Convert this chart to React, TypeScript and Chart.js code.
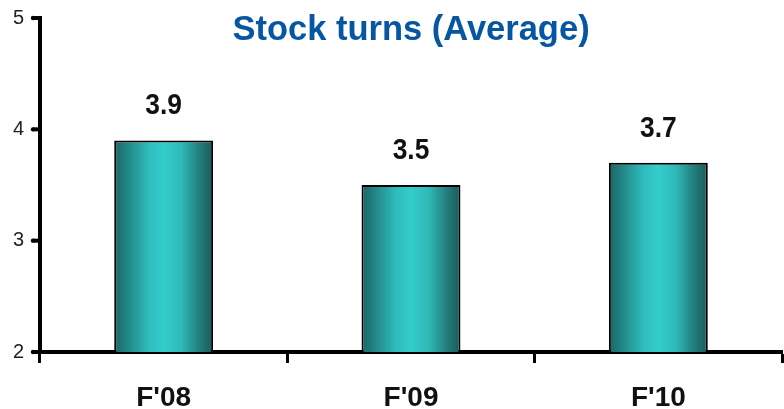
import React, { useEffect, useRef } from "react";
import { Chart, registerables } from "chart.js";

Chart.register(...registerables);

const categories = ["F'08", "F'09", "F'10"];
const stockTurns = [3.9, 3.5, 3.7];
const yTicks = [2, 3, 4, 5];
const titleText = "Stock turns (Average)";

const BAR_PCT = 0.4;
const FONT = "'Liberation Sans', Arial, Helvetica, sans-serif";

function barGradient(ctx: any) {
  const chart = ctx.chart;
  const xScale = chart.scales?.x;
  if (!xScale || ctx.dataIndex === undefined) return "#33cccc";
  const cx = xScale.getPixelForValue(ctx.dataIndex);
  const catW = xScale.width / categories.length;
  const w = catW * BAR_PCT;
  if (!Number.isFinite(cx) || !Number.isFinite(w) || w <= 0) return "#33cccc";
  const g = chart.ctx.createLinearGradient(cx - w / 2, 0, cx + w / 2, 0);
  g.addColorStop(0, "#1c6464");
  g.addColorStop(0.15, "#238a8a");
  g.addColorStop(0.35, "#30bcbc");
  g.addColorStop(0.5, "#34cccc");
  g.addColorStop(0.68, "#2fb9b8");
  g.addColorStop(0.85, "#24807f");
  g.addColorStop(1, "#1a5a5a");
  return g;
}

// Bold numbers above each bar, slightly condensed
const valueLabels = {
  id: "valueLabels",
  afterDatasetsDraw(chart: any) {
    const c = chart.ctx;
    const meta = chart.getDatasetMeta(0);
    meta.data.forEach((bar: any, i: number) => {
      c.save();
      c.translate(bar.x, bar.y - 26);
      c.scale(0.88, 1);
      c.font = `bold 30px ${FONT}`;
      c.fillStyle = "#111111";
      c.textAlign = "center";
      c.textBaseline = "alphabetic";
      c.fillText(stockTurns[i].toFixed(1), 0, 0);
      c.restore();
    });
  },
};

// Short rounded tick stubs on the left of the value axis
const yTickStubs = {
  id: "yTickStubs",
  afterDraw(chart: any) {
    const c = chart.ctx;
    const y = chart.scales.y;
    const x0 = chart.chartArea.left;
    c.save();
    c.fillStyle = "#000000";
    yTicks.forEach((v) => {
      const py = y.getPixelForValue(v);
      c.fillRect(x0 - 7, py - 2, 7, 4);
      c.beginPath();
      c.arc(x0 - 7, py, 2.2, 0, Math.PI * 2);
      c.fill();
    });
    c.restore();
  },
};

const chartTitle = {
  id: "chartTitle",
  afterDraw(chart: any) {
    const c = chart.ctx;
    const area = chart.chartArea;
    c.save();
    c.font = `bold 34.5px ${FONT}`;
    c.fillStyle = "#0756a2";
    c.textAlign = "center";
    c.textBaseline = "alphabetic";
    c.fillText(titleText, (area.left + area.right) / 2, 40);
    c.restore();
  },
};

export default function App() {
  const ref = useRef<HTMLCanvasElement>(null);

  useEffect(() => {
    if (!ref.current) return;
    const chart = new Chart(ref.current, {
      type: "bar",
      data: {
        labels: categories,
        datasets: [
          {
            data: stockTurns,
            backgroundColor: barGradient as any,
            borderColor: "#000000",
            borderWidth: 2,
            borderSkipped: false,
            barPercentage: BAR_PCT,
            categoryPercentage: 1,
          },
        ],
      },
      options: {
        responsive: false,
        animation: false,
        layout: { padding: { top: 18, right: 2, left: 0, bottom: 0 } },
        plugins: {
          legend: { display: false },
          title: { display: false },
          tooltip: { enabled: false },
        },
        scales: {
          x: {
            offset: true,
            grid: {
              offset: true,
              drawOnChartArea: false,
              drawTicks: true,
              tickLength: 11,
              tickWidth: 3,
              tickColor: "#000000",
            },
            border: { display: true, color: "#000000", width: 4 },
            ticks: {
              color: "#111111",
              padding: 18,
              font: { family: FONT, size: 28, weight: "bold" },
            },
            afterFit(scale: any) {
              scale.height = 57;
            },
          },
          y: {
            min: yTicks[0],
            max: yTicks[yTicks.length - 1],
            afterBuildTicks(scale: any) {
              scale.ticks = yTicks.map((v) => ({ value: v }));
            },
            grid: {
              display: false,
              drawOnChartArea: false,
              drawTicks: false,
            },
            border: { display: true, color: "#000000", width: 4 },
            ticks: {
              color: "#222222",
              padding: 16,
              font: { family: FONT, size: 20 },
            },
            afterFit(scale: any) {
              scale.width = 40;
              scale.paddingTop = 0;
              scale.paddingBottom = 0;
            },
          },
        },
      },
      plugins: [valueLabels, yTickStubs, chartTitle],
    });
    return () => chart.destroy();
  }, []);

  return (
    <div style={{ position: "fixed", left: 0, top: 0, width: 784, height: 409, background: "#ffffff" }}>
      <canvas ref={ref} width={784} height={409} />
    </div>
  );
}
